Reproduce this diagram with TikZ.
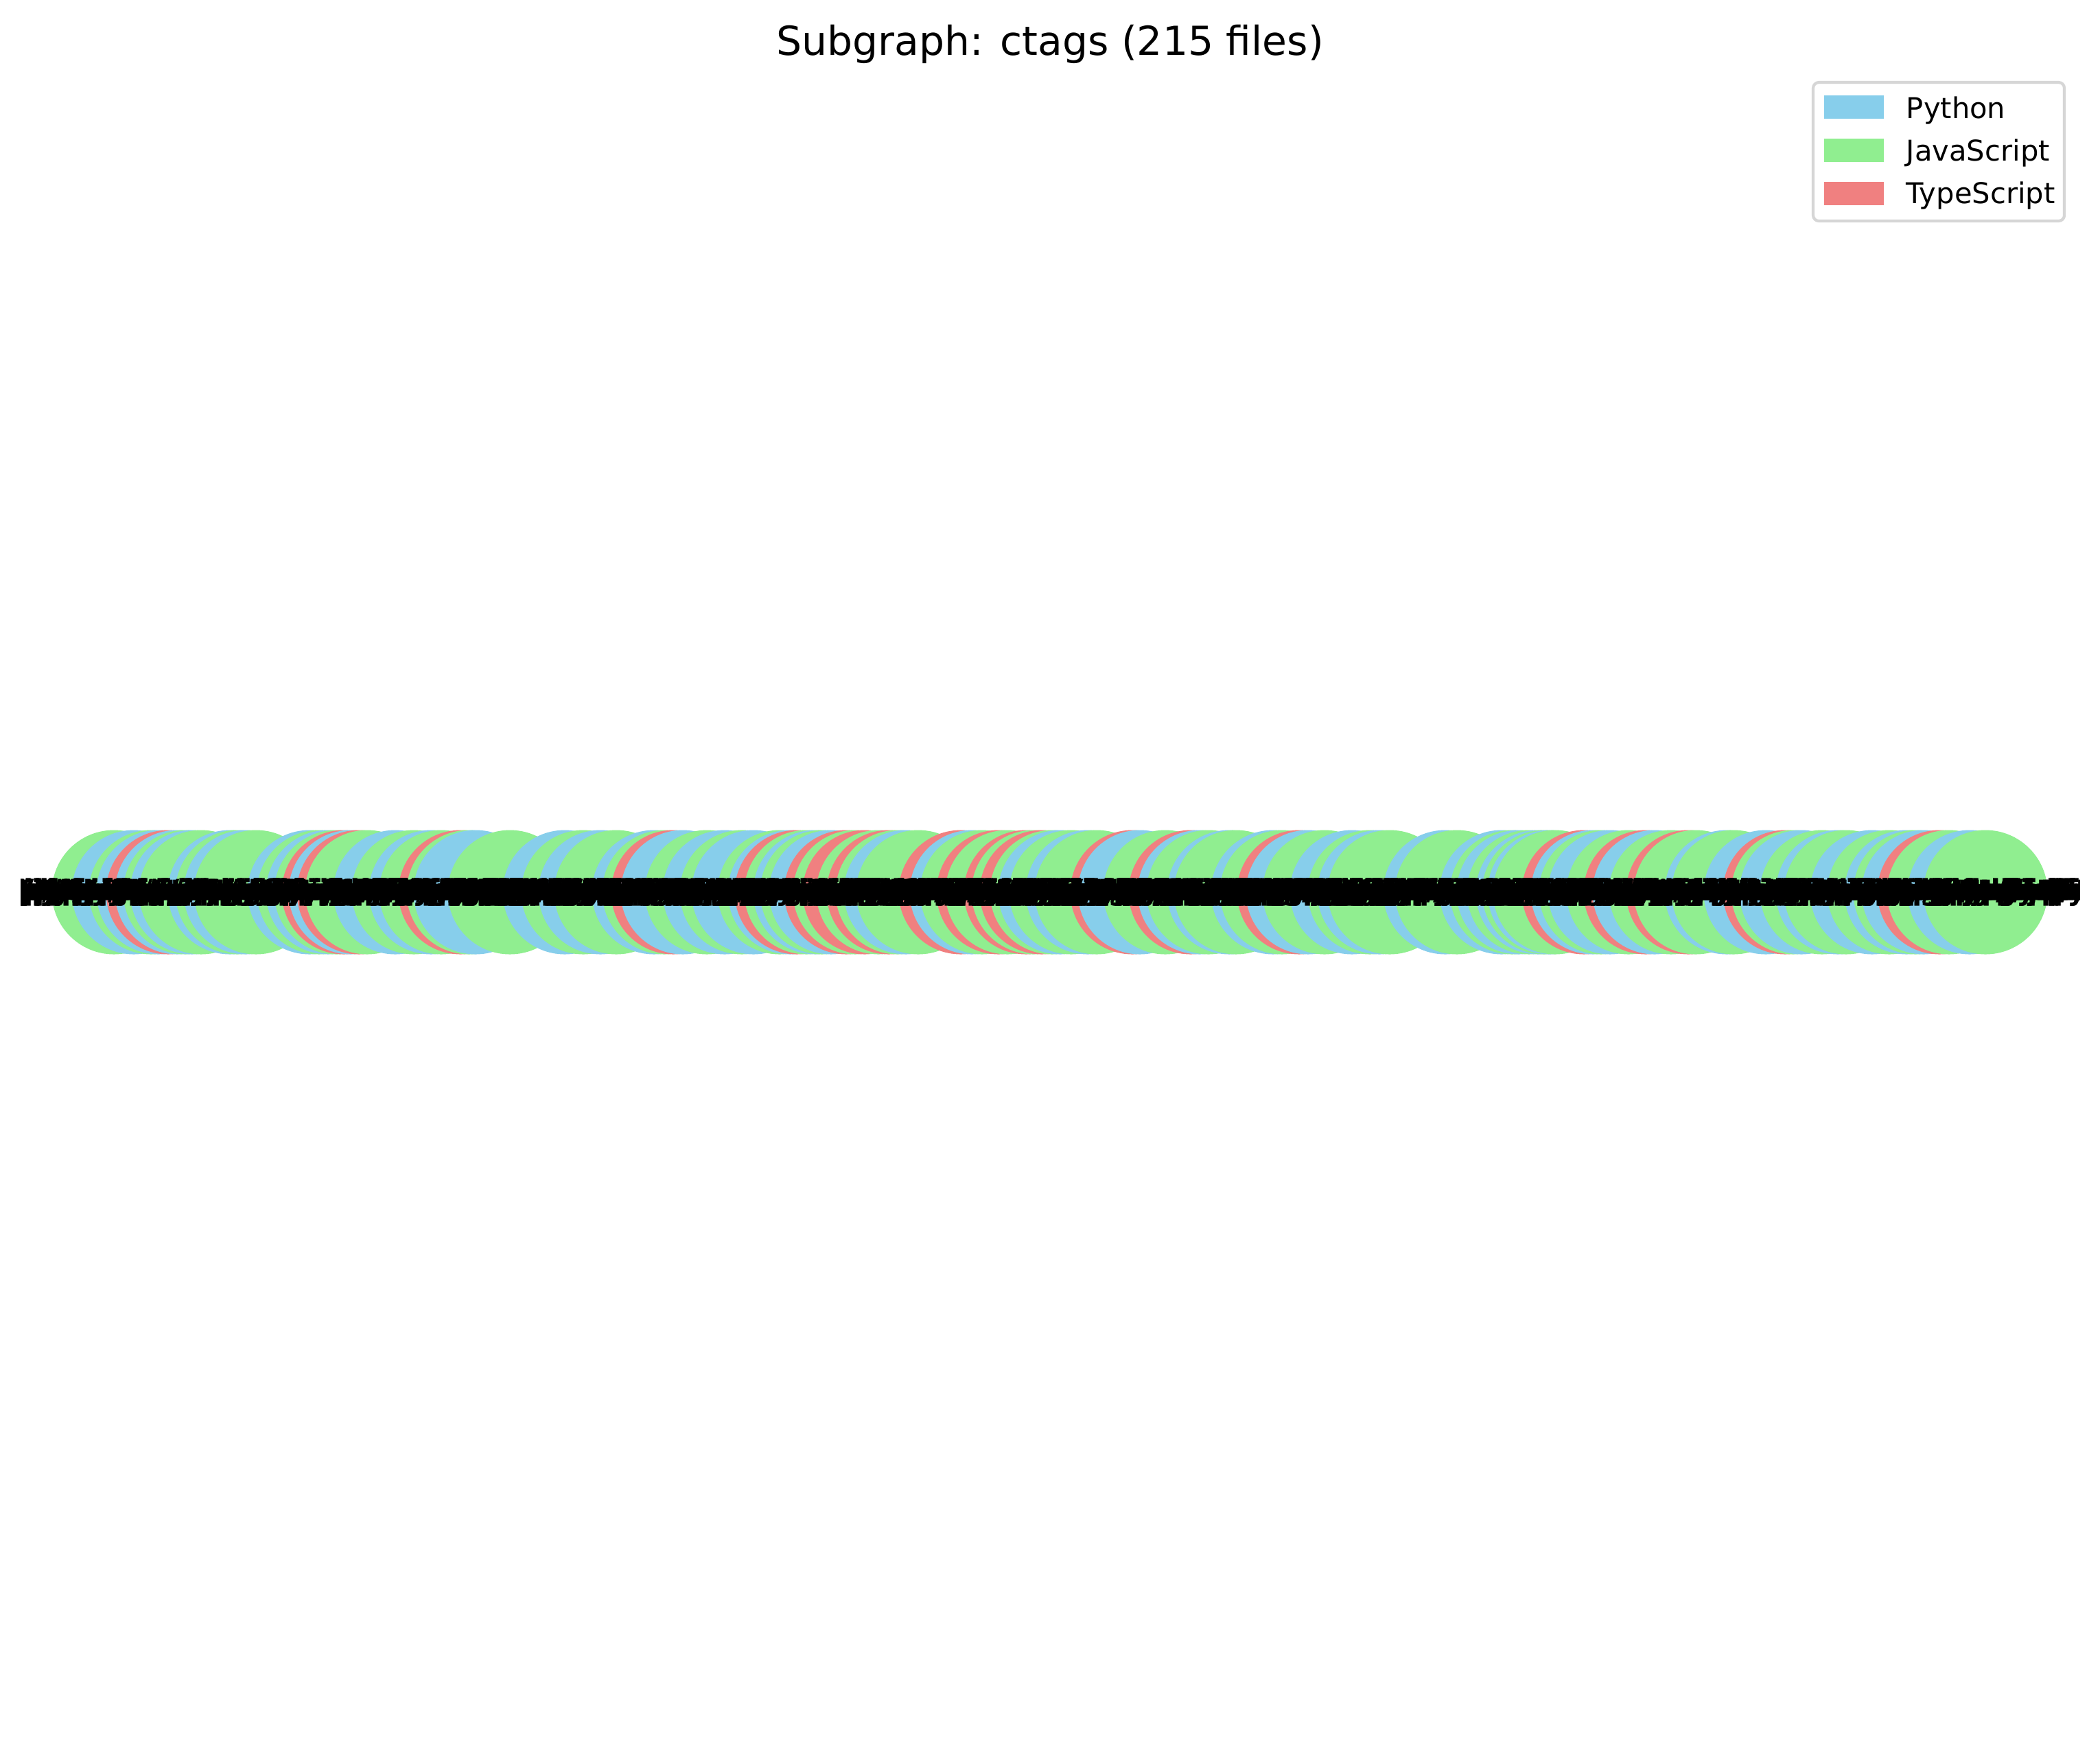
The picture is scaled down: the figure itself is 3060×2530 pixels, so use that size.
\documentclass[tikz,border=0pt]{standalone}
\usepackage{fontspec}
\setmainfont{DejaVu Sans}
\definecolor{py}{HTML}{87CEEB}
\definecolor{js}{HTML}{90EE90}
\definecolor{ts}{HTML}{F08080}
\definecolor{legedge}{HTML}{D6D6D6}
\newcommand\fileLabel[1]{\ifcase#1 Units/parser-python.r/python-class.d/input.py\or Units/parser-javascript.r/js-arrow-funcs.d/input.js\or Units/parser-typescript.r/ts-interfaces.d/input.ts\or Units/parser-python.r/py-decorators.d/input.py\or Units/parser-javascript.r/js-class-expr.d/input.js\or Units/parser-typescript.r/ts-generics.d/input.ts\or Units/parser-python.r/python-lambda.d/input.py\or Units/parser-javascript.r/js-getter-setter.d/input.js\or Units/parser-typescript.r/ts-enums.d/input.ts\or Units/parser-python.r/python-imports.d/input.py\fi}
\begin{document}
\begin{tikzpicture}[x=0.24pt,y=-0.24pt,
  filenode/.style={circle, inner sep=0pt, minimum size=43.44pt},
  lbl/.style={font=\fontsize{10}{10}\selectfont\bfseries, inner sep=0pt, text=black},
  legendbox/.style={draw=legedge, line width=1pt, rounded corners=2pt, fill=white, inner sep=0pt, minimum width=87.84pt, minimum height=48.48pt},
  patchbox/.style={inner sep=0pt, minimum width=20.88pt, minimum height=8.16pt},
  legtext/.style={anchor=base west, font=\fontsize{10}{12}\selectfont, inner sep=0pt}]
\useasboundingbox (0,0) rectangle (3060,2530);
\fill[white] (0,0) rectangle (3060,2530);
\foreach \x/\c [count=\i] in {78/js,107/py,132/js,143/py,157/ts,170/py,182/js,192/py,205/js,247/py,258/js,270/py,285/js,363/py,377/js,390/py,402/js,413/ts,423/py,435/ts,447/js,488/py,515/js,540/py,555/js,583/ts,595/js,605/py,655/js,735/py,762/js,787/py,810/js,865/py,880/js,893/ts,907/py,942/js,968/py,993/js,1010/py,1048/js,1063/py,1073/ts,1087/js,1100/py,1110/js,1123/py,1145/ts,1158/js,1172/ts,1192/js,1207/ts,1220/js,1232/py,1250/js,1312/ts,1328/py,1343/js,1367/ts,1380/js,1407/ts,1418/js,1430/ts,1445/js,1457/py,1473/js,1497/py,1510/js,1562/ts,1573/py,1610/js,1647/ts,1660/py,1673/js,1703/py,1713/js,1767/py,1780/js,1805/ts,1818/py,1842/js,1882/py,1908/js,1922/py,1937/js,2018/py,2035/js,2100/py,2115/js,2125/py,2140/js,2153/py,2162/js,2170/py,2178/js,2220/ts,2233/py,2245/js,2258/py,2285/js,2310/ts,2323/py,2347/js,2372/ts,2383/js,2428/py,2438/js,2485/py,2513/ts,2525/js,2537/py,2567/js,2590/py,2602/js,2640/py,2665/js,2690/py,2703/js,2715/py,2738/ts,2752/js,2782/py,2805/js}{
  \node[filenode, fill=\c] (c\i) at (\x+88,1300) {};
  \xdef\ncount{\i}
}
\begin{scope}
\clip (30,0) rectangle (3030,2530);
\foreach \i in {1,...,\ncount}{
  \pgfmathtruncatemacro\k{mod(\i,10)}
  \node[lbl] (l\i) at (c\i) {\fileLabel{\k}};
}
\end{scope}
\node[anchor=base, font=\fontsize{14}{16}\selectfont, inner sep=0pt] (title) at (1530,80) {Subgraph: ctags (215 files)};
\node[legendbox] (legend) at (2825,221) {};
\node[patchbox, fill=py] (ppy) at (2701.5,156) {};
\node[patchbox, fill=js] (pjs) at (2701.5,218.5) {};
\node[patchbox, fill=ts] (pts) at (2701.5,281.5) {};
\node[legtext] (tpy) at (2777,172) {Python};
\node[legtext] (tjs) at (2777,234) {JavaScript};
\node[legtext] (tts) at (2777,296) {TypeScript};
\end{tikzpicture}
\end{document}
